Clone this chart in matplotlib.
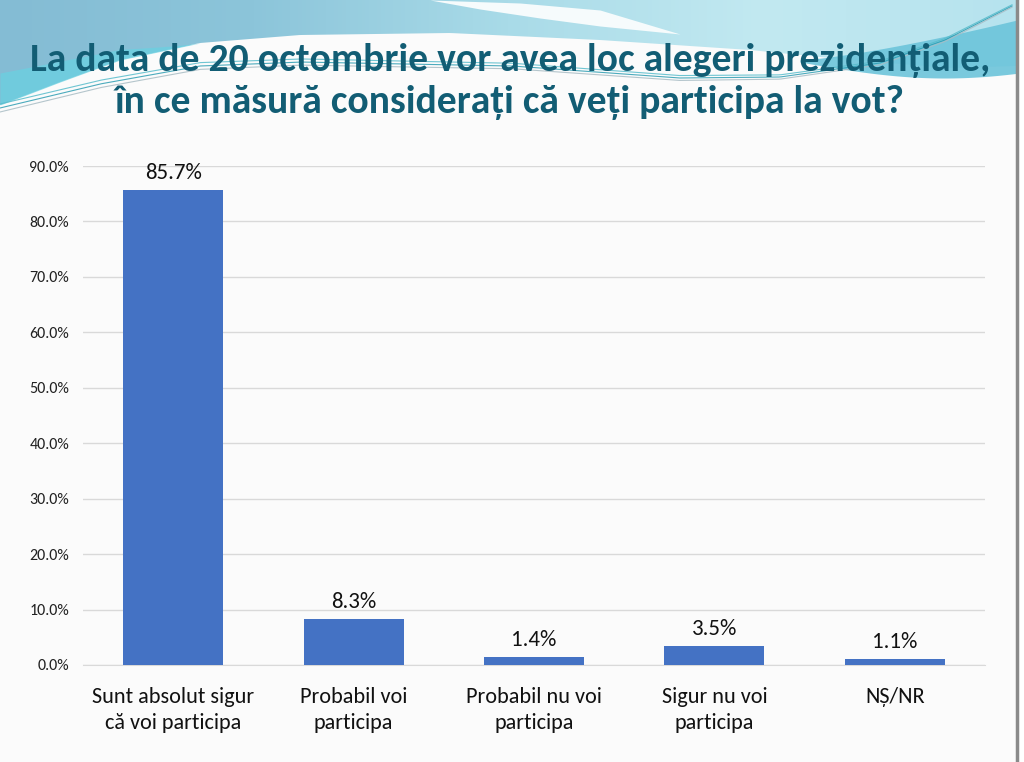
import numpy as np
import matplotlib
matplotlib.use("Agg")
import matplotlib.pyplot as plt
from matplotlib import font_manager as fm
from matplotlib.patches import Polygon
from matplotlib.colors import LinearSegmentedColormap

categories = ["Sunt absolut sigur\ncă voi participa", "Probabil voi\nparticipa",
              "Probabil nu voi\nparticipa", "Sigur nu voi\nparticipa", "NȘ/NR"]
values = [85.7, 8.3, 1.4, 3.5, 1.1]
yticks = [0, 10, 20, 30, 40, 50, 60, 70, 80, 90]
title_lines = ["La data de 20 octombrie vor avea loc alegeri prezidențiale,",
               "în ce măsură considerați că veți participa la vot?"]

names = {f.name for f in fm.fontManager.ttflist}
title_fam = [f for f in ["Carlito", "Open Sans Condensed", "Barlow Semi Condensed", "DejaVu Sans"] if f in names]
body_fam = [f for f in ["Carlito", "Lato", "Open Sans", "DejaVu Sans"] if f in names]

W, H = 1024, 762
fig = plt.figure(figsize=(W / 100, H / 100), dpi=100)
fig.patch.set_facecolor("#fbfbfb")

# ---- decorative background (slide template) ----
bg = fig.add_axes([0, 0, 1, 1], zorder=0)
bg.set_xlim(0, W)
bg.set_ylim(H, 0)
bg.axis("off")


def curve(px, py, n=300):
    xx = np.linspace(px[0], px[-1], n)
    return xx, np.interp(xx, px, py)


# main band across the top with horizontal gradient
bx, by = curve([0, 60, 120, 200, 300, 450, 600, 750, 850, 950, 1017],
               [105, 82, 60, 43, 35, 33, 40, 50, 60, 68, 66])
band = Polygon(np.column_stack([np.r_[bx, 1017, 0], np.r_[by, 0, 0]]), closed=True,
               facecolor="none", edgecolor="none")
bg.add_patch(band)
cmap = LinearSegmentedColormap.from_list("sl", ["#84bcd4", "#8cc5da", "#a9dbe8", "#c2e9f1", "#b6e3ee"])
grad = np.tile(np.linspace(0, 1, 256), (8, 1))
im = bg.imshow(grad, cmap=cmap, extent=[0, 1017, 110, 0], aspect="auto", zorder=1)
im.set_clip_path(band)
# cyan tint along the lower-left edge
cx, cy = curve([0, 60, 120, 200], [105, 82, 60, 43])
bg.fill_between(cx, cy - 32 * (1 - cx / 200) ** 1.2, cy, color="#68d2e2", lw=0, alpha=0.7, zorder=2)
# white swoosh crescent
ux, uy = curve([430, 480, 540, 600, 680], [0, 9, 18, 26, 34])
lx_, ly_ = curve([430, 520, 600, 680], [0, 3, 10, 34])
bg.fill_between(ux, np.interp(ux, lx_, ly_), uy, color="#f6fbfc", lw=0, zorder=2)
# teal band on the right
tx = np.linspace(800, 1017, 120)
t = (tx - 800) / 217
upper = 60 - 40 * t ** 1.3
lower = 62 + 16 * np.sin(np.pi * t * 0.75)
bg.fill_between(tx, upper, lower, color="#6cc4da", lw=0, alpha=0.9, zorder=2)
# thin swoosh lines
px = [0, 100, 200, 300, 512, 680, 780, 880, 945, 1012]
py = [108, 84, 66, 62, 66, 78, 77, 63, 40, 6]
for dy, c in [(0, "#2d9db2"), (4, "#a8bcc4"), (-4, "#57bccb")]:
    xx, yy = curve(px, np.array(py) + dy * np.linspace(1, 0.3, len(py)), 400)
    bg.plot(xx, yy, color=c, lw=0.8, alpha=0.85, zorder=3)
# right border
bg.fill_between([1018, W], 0, H, color="white", lw=0, zorder=3)
bg.axvline(1017, color="#8a8a8a", lw=2.5, zorder=4)

# ---- chart ----
ax = fig.add_axes([83 / W, 1 - 665 / H, (985 - 83) / W, (665 - 166) / H], zorder=1)
ax.patch.set_alpha(0)
xpos = np.arange(len(categories))
bars = ax.bar(xpos, values, width=0.555, color="#4472C4", zorder=3)
ax.set_xlim(-0.5, len(categories) - 0.5)
ax.set_ylim(0, 90)
ax.set_yticks(yticks)
ax.set_yticklabels([f"{v:.1f}%" for v in yticks], family=body_fam, fontsize=11.5, color="#222222")
ax.set_xticks(xpos)
ax.set_xticklabels(categories, family=body_fam, fontsize=16, color="#111111", linespacing=1.38)
ax.grid(axis="y", color="#d9d9d9", lw=1, zorder=0)
for s in ["top", "right", "left"]:
    ax.spines[s].set_visible(False)
ax.spines["bottom"].set_color("#d9d9d9")
ax.tick_params(axis="both", length=0)
ax.tick_params(axis="x", pad=16)
ax.tick_params(axis="y", pad=10)
for b, v in zip(bars, values):
    ax.annotate(f"{v:.1f}%", (b.get_x() + b.get_width() / 2, v), xytext=(0, 5),
                textcoords="offset points", ha="center", va="bottom",
                family=body_fam, fontsize=16.5, color="#111111")

# title, sized so the first line spans the same width as in the reference
t1 = fig.text(510 / W, 1 - 61 / H, title_lines[0], ha="center", va="center", family=title_fam,
              fontweight="bold", fontsize=28, color="#125d74", zorder=5)
t2 = fig.text(510 / W, 1 - 102 / H, title_lines[1], ha="center", va="center", family=title_fam,
              fontweight="bold", fontsize=28, color="#125d74", zorder=5)
fig.canvas.draw()
r = fig.canvas.get_renderer()
w = t1.get_window_extent(r).width
fs = 28 * 960 / w
t1.set_fontsize(fs)
t2.set_fontsize(fs)

fig.savefig("out.png", dpi=100, facecolor=fig.get_facecolor())
